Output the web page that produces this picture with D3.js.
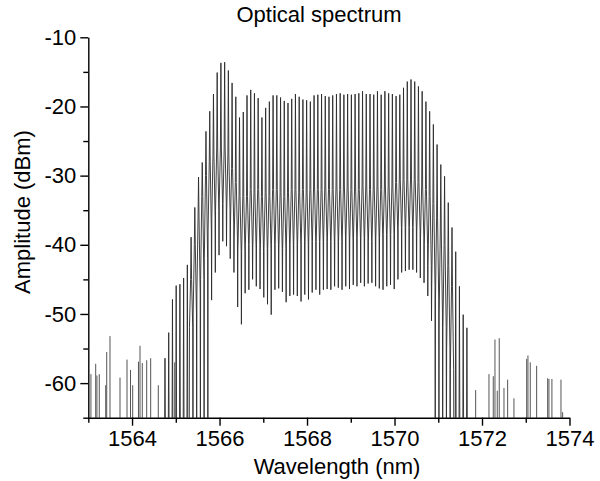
<!DOCTYPE html>
<html><head><meta charset="utf-8">
<script src="https://cdn.jsdelivr.net/npm/d3@7"></script>
<style>body{margin:0;background:#fff} svg text{font-family:"Liberation Sans",Arial,sans-serif;fill:#000}</style>
</head><body><svg id="c" width="600" height="481"></svg>
<script>
// comb lines (nm)
const modeWavelength = [1564.753,1564.838,1564.924,1565.009,1565.094,1565.179,1565.264,1565.350,1565.435,1565.520,
1565.605,1565.690,1565.776,1565.861,1565.946,1566.031,1566.117,1566.202,1566.287,1566.372,
1566.457,1566.543,1566.628,1566.713,1566.798,1566.883,1566.969,1567.054,1567.139,1567.224,
1567.309,1567.395,1567.480,1567.565,1567.650,1567.735,1567.821,1567.906,1567.991,1568.076,
1568.161,1568.247,1568.332,1568.417,1568.502,1568.587,1568.673,1568.758,1568.843,1568.928,
1569.014,1569.099,1569.184,1569.269,1569.354,1569.440,1569.525,1569.610,1569.695,1569.780,
1569.866,1569.951,1570.036,1570.121,1570.206,1570.292,1570.377,1570.462,1570.547,1570.632,
1570.718,1570.803,1570.888,1570.973,1571.058,1571.144,1571.229,1571.314,1571.399,1571.484,
1571.570,1571.655];
const modePeak = [-56.4,-52.7,-47.9,-45.9,-45.7,-44.8,-42.9,-38.9,-34.6,-30.2,
-28.1,-23.6,-20.7,-18.2,-15.1,-13.7,-13.6,-14.8,-16.6,-18.6,
-21.6,-20.8,-18.4,-17.6,-18.1,-18.8,-21.6,-20.2,-19.3,-18.4,
-18.4,-18.7,-19.2,-19.5,-18.9,-18.2,-18.6,-19.0,-19.1,-19.3,
-18.4,-18.3,-18.2,-18.5,-18.6,-18.4,-18.2,-18.1,-18.3,-18.2,
-18.3,-18.2,-18.1,-17.8,-18.2,-18.2,-18.3,-17.8,-18.3,-17.8,
-18.1,-18.2,-18.5,-18.3,-17.3,-16.4,-16.1,-16.4,-17.1,-17.8,
-19.3,-20.7,-22.6,-25.5,-28.4,-30.1,-33.9,-37.5,-41.0,-46.0,
-50.1,-52.0];
// top of the pedestal round each line
const modeShoulder = [-70,-70,-70,-70,-70,-70,-70,-45,-40,-36,
-33,-30,-28,-27,-26,-26,-26,-27,-29,-31,
-33,-33,-33,
-32,-32.5,-32,-33,-32.5,-33,-32,-32,-32.5,-33,
-32.5,-32,-32,-32.5,-32,-32.5,-32,-31.5,-32,-32,
-31.5,-32,-32,-31.5,-32,-31.5,-31.5,-32,-31.5,-32,
-31.5,-31.5,-32,-31.5,-31.5,-32,-31.5,-31.5,-31.5,
-31,-30.5,-30.5,-30.5,-30.5,-30.5,-31,-31.5,
-32,-33,-34,-36,-38,-40,-43,-46,
-70,-70,-70,-70];
// foot of the pedestal
const modeFoot = [-70,-70,-70,-70,-70,-70,-70,-52,-50,-47,
-45,-42,-38,-36,-35,-34,-34,-35,-37,-39,
-41,-41,-40,
-40,-40.5,-40,-41,-40.5,-40.5,-40,-40,-40.5,-40.5,
-40,-40,-39.5,-40,-39.5,-40,-39.5,-39.5,-39.5,-39.5,
-39,-39.5,-39.5,-39,-39.5,-39,-39,-39.5,-39,-39,
-39,-39,-39.5,-39,-39,-39,-38.5,-38.5,-38.5,
-38,-37.5,-37.5,-37.5,-37.5,-37.5,-38,-39,
-40,-43,-46,-48,-50,-52,-55,-58,
-70,-70,-70,-70];
// minimum between a line and the next one
const modeTrough = [-70,-70,-70,-70,-70,-70,-70,-70,-70,-70,-70,-70,
-48,-44,-41.5,-39.5,-40.2,-42,-44,-49,-51.5,
-47,-46.5,-45,-46,-46.4,-47.6,-48.6,-50.1,-46.5,-46.3,
-46.8,-48.3,-47.4,-47.2,-47.4,-48.2,-47.2,-47.9,-46.9,-46.5,
-47.2,-46.5,-46.4,-46.5,-46,-46.2,-46.5,-46,-46.4,-45.8,
-46,-45.5,-46,-45.6,-45.5,-46,-46.3,-46.5,-46,-45.8,
-46.4,-45,-44,-43.8,-43.6,-43.6,-44,-44.8,-45.5,-47.4,-51,
-70,-70,-70,-70,-70,-70,-70,-70,-70,-70];
// isolated noise spikes
const noiseWavelength = [1563.06,1563.169,1563.197,1563.251,1563.398,1563.421,1563.496,1563.725,1563.885,1563.965,
1564.015,1564.147,1564.182,1564.234,1564.335,1564.426,1564.600,1564.975,
1571.855,1572.159,1572.257,1572.296,1572.349,1572.394,1572.502,1572.586,1572.730,1573.021,
1573.050,1573.103,1573.249,1573.501,1573.530,1573.598,1573.805,1573.843];
const noiseLevel = [-58.7,-57.2,-58.9,-58.7,-60.3,-55.5,-53.2,-59.2,-56.6,-58.1,
-60.3,-56.9,-54.6,-57.1,-56.7,-56.4,-60.3,-57,
-61,-58.7,-59,-53.7,-61.1,-53.5,-60.7,-59.5,-62.2,-56.5,
-56,-57,-57.5,-59.3,-59.4,-59.4,-59.5,-64.2];
const floorLevel = -70;
const xMajorTicks = [1564,1566,1568,1570,1572,1574];
const xMinorTicks = [1563,1565,1567,1569,1571,1573];
const yMajorTicks = [-10,-20,-30,-40,-50,-60];
const yMinorTicks = [-15,-25,-35,-45,-55,-65];
const titleText = "Optical spectrum";
const xTitle = "Wavelength (nm)";
const yTitle = "Amplitude (dBm)";

const svg = d3.select("#c");
const L = 88.3, R = 569.5, T = 37.3, B = 417.7;
const x = d3.scaleLinear().domain([1563,1574]).range([L,R]);
const y = d3.scaleLinear().domain([-65,-10]).range([B,T]);

svg.append("clipPath").attr("id","clip").append("rect")
  .attr("x",L).attr("y",T-5).attr("width",R-L).attr("height",B-T+5);
const plot = svg.append("g").attr("clip-path","url(#clip)");

// noise spikes
plot.selectAll("line.noise").data(noiseWavelength).join("line")
  .attr("class","noise")
  .attr("x1",d=>x(d)).attr("x2",d=>x(d))
  .attr("y1",y(floorLevel)).attr("y2",(d,i)=>y(noiseLevel[i]))
  .attr("stroke","#555").attr("stroke-width",1);

// comb trace
const pts = [];
const n = modeWavelength.length;
for (let j=0;j<n;j++){
  const w = modeWavelength[j];
  const s = j<n-1 ? modeWavelength[j+1]-w : w-modeWavelength[j-1];
  if (j===0) pts.push([w-0.5*s, floorLevel]);
  pts.push([w-0.44*s, modeFoot[j]]);
  pts.push([w-0.13*s, modeShoulder[j]]);
  pts.push([w, modePeak[j]]);
  pts.push([w+0.13*s, modeShoulder[j]]);
  pts.push([w+0.44*s, modeFoot[j]]);
  pts.push([w+0.5*s, modeTrough[j]]);
}
plot.append("path").datum(pts)
  .attr("d", d3.line().x(d=>x(d[0])).y(d=>y(d[1])))
  .attr("fill","none").attr("stroke","#2a2a2a").attr("stroke-width",0.9)
  .attr("stroke-linejoin","miter");

// axes
const fs = "22px";
const fmt = d => String(d);
const gx = svg.append("g").attr("transform",`translate(0,${B})`);
gx.call(d3.axisBottom(x).tickValues(xMinorTicks).tickSize(5).tickSizeOuter(0).tickFormat(""));
gx.call(g=>g.select(".domain").remove());
const gx2 = svg.append("g").attr("transform",`translate(0,${B})`)
  .call(d3.axisBottom(x).tickValues(xMajorTicks).tickSize(8).tickSizeOuter(0).tickPadding(5).tickFormat(fmt));
gx2.selectAll("text").style("font-size",fs);
const gy = svg.append("g").attr("transform",`translate(${L},0)`);
gy.call(d3.axisLeft(y).tickValues(yMinorTicks).tickSize(5).tickSizeOuter(0).tickFormat(""));
gy.call(g=>g.select(".domain").remove());
const gy2 = svg.append("g").attr("transform",`translate(${L},0)`)
  .call(d3.axisLeft(y).tickValues(yMajorTicks).tickSize(8).tickSizeOuter(0).tickPadding(4).tickFormat(fmt));
gy2.selectAll("text").style("font-size",fs);
svg.selectAll(".domain, .tick line").attr("stroke","#000").attr("stroke-width",1.4);

svg.append("text").attr("x",319).attr("y",22).attr("text-anchor","middle")
  .style("font-size","22px").text(titleText);
svg.append("text").attr("x",337).attr("y",474).attr("text-anchor","middle")
  .style("font-size","22px").text(xTitle);
svg.append("text").attr("transform",`translate(30,212) rotate(-90)`).attr("text-anchor","middle")
  .style("font-size","22px").text(yTitle);
</script></body></html>
